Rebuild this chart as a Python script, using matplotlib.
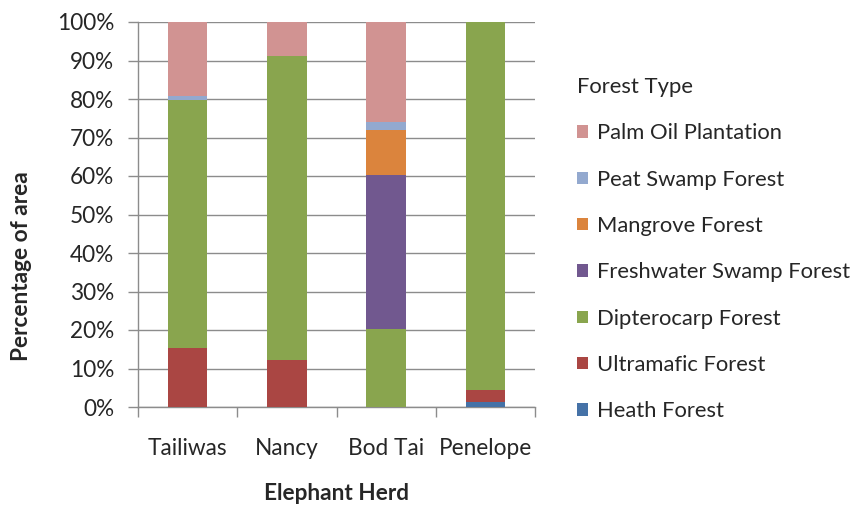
import matplotlib.pyplot as plt
import matplotlib as mpl
import numpy as np
from matplotlib.patches import Patch

mpl.rcParams['figure.dpi'] = 100
plt.rcParams['font.family'] = ['Lato', 'DejaVu Sans']

herds = ['Tailiwas', 'Nancy', 'Bod Tai', 'Penelope']

# percentages per forest type, bottom of stack first
heath = [0.0, 0.0, 0.0, 1.3]
ultramafic = [15.2, 12.3, 0.0, 3.0]
dipterocarp = [64.6, 78.8, 20.2, 95.7]
freshwater = [0.0, 0.0, 40.0, 0.0]
mangrove = [0.0, 0.0, 11.8, 0.0]
peat = [1.0, 0.0, 1.9, 0.0]
palm = [19.2, 8.9, 26.1, 0.0]

series = [
    ('Heath Forest', heath, '#4572A7'),
    ('Ultramafic Forest', ultramafic, '#AA4643'),
    ('Dipterocarp Forest', dipterocarp, '#89A54E'),
    ('Freshwater Swamp Forest', freshwater, '#71588F'),
    ('Mangrove Forest', mangrove, '#DB843D'),
    ('Peat Swamp Forest', peat, '#93A9CF'),
    ('Palm Oil Plantation', palm, '#D19392'),
]

fs = 16.3
tc = '#262626'

fig = plt.figure(figsize=(8.63, 5.09))
ax = fig.add_axes([138 / 863, 1 - 407 / 509, (535 - 138) / 863, (407 - 22) / 509])

x = np.arange(len(herds))
bottom = np.zeros(len(herds))
for name, vals, col in series:
    vals = np.array(vals)
    ax.bar(x, vals, 0.4, bottom=bottom, color=col, label=name, zorder=3)
    bottom += vals

ax.set_xlim(-0.5, len(herds) - 0.5)
ax.set_ylim(0, 100)
ax.set_yticks(np.arange(0, 101, 10))
ax.set_yticklabels(['%d%%' % v for v in range(0, 101, 10)])
ax.yaxis.grid(True, color='#8c8c8c', linewidth=1.0, zorder=0)

# category boundaries as major ticks, names on minor ticks
ax.set_xticks(np.arange(-0.5, len(herds), 1.0))
ax.set_xticklabels([])
ax.set_xticks(x, minor=True)
ax.set_xticklabels(herds, minor=True)
ax.tick_params(axis='x', which='major', length=7, color='#8c8c8c', width=1)
ax.tick_params(axis='x', which='minor', length=0, pad=22, labelsize=fs, labelcolor=tc)
ax.tick_params(axis='y', length=7, pad=10, color='#8c8c8c', width=1, labelsize=fs, labelcolor=tc)

for s in ['top', 'right']:
    ax.spines[s].set_visible(False)
for s in ['left', 'bottom']:
    ax.spines[s].set_color('#8c8c8c')
    ax.spines[s].set_linewidth(1)

fig.text(22 / 863, 1 - 266 / 509, 'Percentage of area', rotation=90, ha='center', va='center',
         fontsize=fs, fontweight='bold', color=tc)
fig.text(336 / 863, 1 - 494 / 509, 'Elephant Herd', ha='center', va='center',
         fontsize=fs, fontweight='bold', color=tc)

handles = [Patch(facecolor=col, label=name) for name, vals, col in series][::-1]
leg = fig.legend(handles=handles, loc='upper left', bbox_to_anchor=(566 / 863, 1 - 66 / 509),
                 title='Forest Type', frameon=False, fontsize=15.8, title_fontsize=15.8,
                 handlelength=0.5, handleheight=0.5, handletextpad=0.4,
                 labelspacing=1.2, borderpad=0, alignment='left')
for t in leg.get_texts():
    t.set_color(tc)
leg.get_title().set_color(tc)

fig.savefig('out.png', dpi=100)
